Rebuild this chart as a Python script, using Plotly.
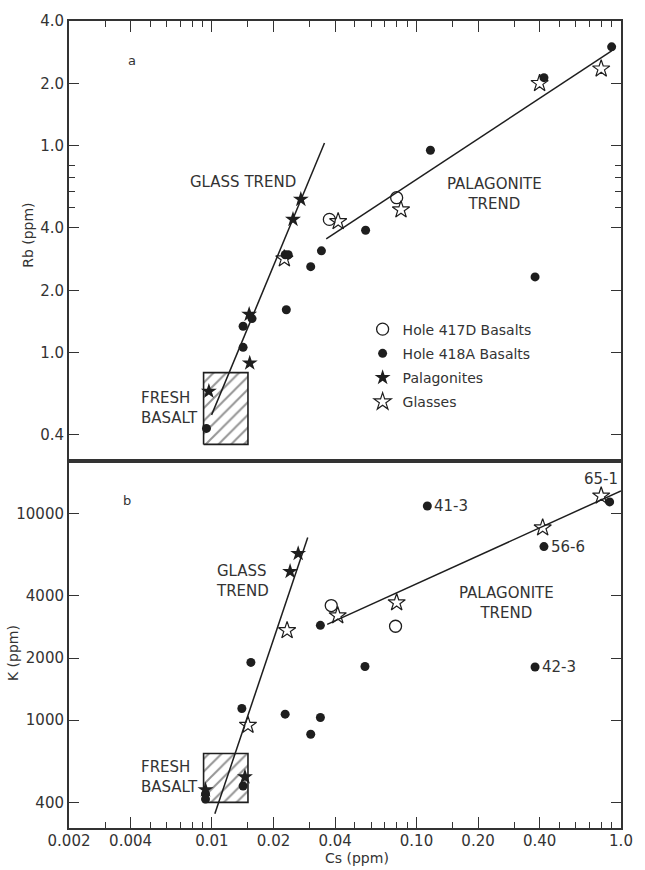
import math
import plotly.graph_objects as go

# ---------------- Panel a : Rb (ppm) vs Cs (ppm) ----------------
a_417d_cs = [0.0375, 0.080]
a_417d_rb = [4.4, 5.6]

a_418a_cs = [0.90, 0.42, 0.117, 0.0564, 0.0343, 0.0304, 0.38, 0.0228, 0.0236,
             0.0231, 0.0157, 0.0142, 0.0142, 0.0094]
a_418a_rb = [30.0, 21.3, 9.5, 3.9, 3.1, 2.6, 2.32, 2.97, 2.97,
             1.61, 1.46, 1.34, 1.06, 0.43]

a_pal_cs = [0.0272, 0.0249, 0.0152, 0.0153, 0.00966]
a_pal_rb = [5.5, 4.4, 1.53, 0.89, 0.65]

a_gls_cs = [0.80, 0.40, 0.084, 0.0414, 0.0226]
a_gls_rb = [23.5, 20.0, 4.9, 4.3, 2.84]

a_glass_trend_cs = [0.00996, 0.0355]
a_glass_trend_rb = [0.50, 10.3]
a_pal_trend_cs = [0.0362, 0.90]
a_pal_trend_rb = [3.54, 28.7]

a_fresh_cs = [0.0091, 0.015]
a_fresh_rb = [0.36, 0.80]

a_tickvals = [0.4, 1, 2, 4, 10, 20, 40]
a_ticktext = ["0.4", "1.0", "2.0", "4.0", "1.0", "2.0", "4.0"]
a_minor = [5, 6, 7, 8]

# ---------------- Panel b : K (ppm) vs Cs (ppm) ----------------
b_417d_cs = [0.0383, 0.079]
b_417d_k = [3590, 2850]

b_418a_cs = [0.113, 0.88, 0.42, 0.0339, 0.056, 0.38, 0.0155, 0.0140, 0.0228,
             0.0339, 0.0304, 0.0142, 0.0093, 0.0093]
b_418a_k = [10900, 11400, 6930, 2880, 1820, 1810, 1905, 1140, 1070,
            1030, 855, 480, 440, 415]

b_pal_cs = [0.0264, 0.0241, 0.0145, 0.0093]
b_pal_k = [6410, 5250, 531, 460]

b_gls_cs = [0.80, 0.414, 0.080, 0.0412, 0.0233, 0.0150]
b_gls_k = [12200, 8550, 3710, 3210, 2720, 946]

b_glass_trend_cs = [0.01033, 0.0294]
b_glass_trend_k = [352, 7660]
b_pal_trend_cs = [0.0366, 1.0]
b_pal_trend_k = [2910, 12900]

b_fresh_cs = [0.0091, 0.015]
b_fresh_k = [400, 690]

b_tickvals = [400, 1000, 2000, 4000, 10000]
b_ticktext = ["400", "1000", "2000", "4000", "10000"]

# sample labels (Cs, K, text)
b_sample_cs = [0.113, 0.42, 0.38]
b_sample_k = [10900, 6930, 1810]
b_sample_txt = ["41-3", "56-6", "42-3"]

x_tickvals = [0.002, 0.004, 0.01, 0.02, 0.04, 0.1, 0.2, 0.4, 1.0]
x_ticktext = ["0.002", "0.004", "0.01", "0.02", "0.04", "0.10", "0.20", "0.40", "1.0"]
x_minor = [0.003, 0.005, 0.006, 0.007, 0.008, 0.009, 0.015, 0.03, 0.05, 0.06,
           0.07, 0.08, 0.09, 0.15, 0.3, 0.5, 0.6, 0.7, 0.8, 0.9]

FONT = "DejaVu Sans"
INK = "#1e1e1e"
TXT = "#333333"

fig = go.Figure()


def box(cs, vals, xa, ya):
    fig.add_trace(go.Scatter(
        x=[cs[0], cs[1], cs[1], cs[0], cs[0]],
        y=[vals[0], vals[0], vals[1], vals[1], vals[0]],
        xaxis=xa, yaxis=ya, mode="lines", fill="toself",
        fillcolor="white",
        fillpattern=dict(shape="/", fgcolor="#2a2a2a", bgcolor="white",
                         size=9, solidity=0.22),
        line=dict(color=INK, width=1.6), showlegend=False, hoverinfo="skip"))


def line(cs, vals, xa, ya):
    fig.add_trace(go.Scatter(x=cs, y=vals, xaxis=xa, yaxis=ya, mode="lines",
                             line=dict(color=INK, width=1.5), showlegend=False))


def pts(cs, vals, xa, ya, symbol, size, name, show, lw=1.3):
    fig.add_trace(go.Scatter(
        x=cs, y=vals, xaxis=xa, yaxis=ya, mode="markers", name=name,
        legendgroup=name, showlegend=show,
        marker=dict(symbol=symbol, size=size, color=INK,
                    line=dict(color=INK, width=lw))))


# Panel a
box(a_fresh_cs, a_fresh_rb, "x", "y")
line(a_glass_trend_cs, a_glass_trend_rb, "x", "y")
line(a_pal_trend_cs, a_pal_trend_rb, "x", "y")
pts(a_417d_cs, a_417d_rb, "x", "y", "circle-open", 12, "Hole 417D Basalts", True)
pts(a_418a_cs, a_418a_rb, "x", "y", "circle", 9, "Hole 418A Basalts", True, 0)
pts(a_pal_cs, a_pal_rb, "x", "y", "star", 12, "Palagonites", True, 0)
pts(a_gls_cs, a_gls_rb, "x", "y", "star-open", 13, "Glasses", True, 1.2)

# Panel b
box(b_fresh_cs, b_fresh_k, "x2", "y2")
line(b_glass_trend_cs, b_glass_trend_k, "x2", "y2")
line(b_pal_trend_cs, b_pal_trend_k, "x2", "y2")
pts(b_417d_cs, b_417d_k, "x2", "y2", "circle-open", 12, "Hole 417D Basalts", False)
pts(b_418a_cs, b_418a_k, "x2", "y2", "circle", 9, "Hole 418A Basalts", False, 0)
pts(b_pal_cs, b_pal_k, "x2", "y2", "star", 12, "Palagonites", False, 0)
pts(b_gls_cs, b_gls_k, "x2", "y2", "star-open", 13, "Glasses", False, 1.2)

W, H = 645, 870
ml, mr, mt, mb = 69, 12, 17, 42
PW, PH = W - ml - mr, H - mt - mb
split = (828 - 459) / PH

xcommon = dict(type="log", range=[-2.69897, 0.0], tickmode="array",
               tickvals=x_tickvals, ticktext=x_ticktext, ticks="inside",
               ticklen=11, tickwidth=1.4, tickcolor=TXT, showgrid=False,
               zeroline=False, showline=True, linecolor=TXT, linewidth=2,
               mirror=True,
               minor=dict(tickmode="array", tickvals=x_minor, ticks="inside",
                          ticklen=6, tickwidth=1.2, tickcolor=TXT, showgrid=False),
               tickfont=dict(family=FONT, size=15, color=TXT))

ycommon = dict(type="log", ticks="inside", ticklen=10, tickwidth=1.4,
               tickcolor=TXT, showgrid=False, zeroline=False, showline=True,
               linecolor=TXT, linewidth=2, mirror="ticks", tickmode="array",
               tickfont=dict(family=FONT, size=15, color=TXT))

fig.update_layout(
    width=W, height=H, margin=dict(l=ml, r=mr, t=mt, b=mb),
    paper_bgcolor="white", plot_bgcolor="white",
    xaxis=dict(xcommon, anchor="y", side="top", showticklabels=False),
    yaxis=dict(ycommon, anchor="x", domain=[split, 1.0],
               range=[-0.523, 1.602], tickvals=a_tickvals, ticktext=a_ticktext,
               minor=dict(tickmode="array", tickvals=a_minor, ticks="inside",
                          ticklen=6, tickwidth=1.2, tickcolor=TXT, showgrid=False)),
    xaxis2=dict(xcommon, anchor="y2", side="bottom", ticklabelstandoff=-2),
    yaxis2=dict(ycommon, anchor="x2", domain=[0.0, split],
                range=[2.478, 4.256], tickvals=b_tickvals, ticktext=b_ticktext),
    showlegend=True,
    legend=dict(x=(369 - ml) / PW, y=(828 - 311) / PH,
                xanchor="left", yanchor="top", bgcolor="rgba(0,0,0,0)",
                font=dict(family=FONT, size=14, color=TXT),
                traceorder="grouped", tracegroupgap=3),
)

ann = []


def note(text, x, y, xref, yref, size=15, **kw):
    if xref != "paper":
        x = math.log10(x)
        y = math.log10(y)
    d = dict(text=text, x=x, y=y, xref=xref, yref=yref, showarrow=False,
             xanchor="center", yanchor="middle",
             font=dict(family=FONT, size=size, color=TXT))
    d.update(kw)
    ann.append(d)


# panel a texts
note("a", 0.00405, 25.7, "x", "y", size=13)
note("GLASS TREND", 0.0142, 6.65, "x", "y")
note("PALAGONITE<br>TREND", 0.240, 5.86, "x", "y", align="center")
note("FRESH<br>BASALT", 0.00875, 0.54, "x", "y", xanchor="right", align="left")
# panel b texts
note("b", 0.00383, 11560, "x2", "y2", size=13)
note("GLASS<br>TREND", 0.0102, 4720, "x2", "y2", xanchor="left", align="left")
note("PALAGONITE<br>TREND", 0.275, 3700, "x2", "y2", align="center")
note("FRESH<br>BASALT", 0.00875, 533, "x2", "y2", xanchor="right", align="left")
for cs, k, t in zip(b_sample_cs, b_sample_k, b_sample_txt):
    note(t, cs, k, "x2", "y2", xanchor="left", xshift=5)
note("65-1", 0.80, 12200, "x2", "y2", yshift=17)

# axis titles
note("Rb (ppm)", (27 - ml) / PW, (828 - 232) / PH, "paper", "paper",
     size=14, textangle=-90)
note("K (ppm)", (12 - ml) / PW, (828 - 652) / PH, "paper", "paper",
     size=14, textangle=-90)
note("Cs (ppm)", (363 - ml) / PW, (828 - 858) / PH, "paper", "paper", size=14)

fig.update_layout(annotations=ann)
fig.write_html("out.html")
